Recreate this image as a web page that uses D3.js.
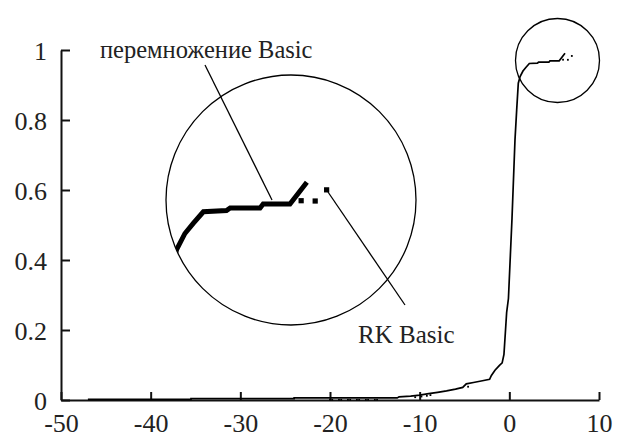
<!DOCTYPE html>
<html><head><meta charset="utf-8">
<script src="https://cdn.jsdelivr.net/npm/d3@7"></script>
<style>html,body{margin:0;padding:0;background:#fff;} svg{display:block;}
svg text{font-family:"Liberation Serif","Times New Roman",Tinos,"DejaVu Serif",serif !important;}</style>
</head><body>
<script>
// ---- data ----
const xTicks = [-50, -40, -30, -20, -10, 0, 10];
const xTickLabels = ["-50", "-40", "-30", "-20", "-10", "0", "10"];
const yTicks = [0, 0.2, 0.4, 0.6, 0.8, 1];
const yTickLabels = ["0", "0.2", "0.4", "0.6", "0.8", "1"];
const seriesNames = ["перемножение Basic", "RK Basic"];

// "перемножение Basic" (line)
const peremX = [-47, -35.5, -35.5, -24, -24, -12.5, -12.3, -11, -10, -9, -8, -7, -6, -5.2, -4.8, -4, -3, -2.2, -2, -1.6, -1.1, -0.8, -0.6, -0.45, -0.3, -0.1, 0.3, 0.63, 0.82, 1.0, 1.2, 1.52, 1.84, 2.23, 3.12, 3.26, 4.41, 4.53, 5.56, 6.21];
const peremY = [0.002, 0.002, 0.004, 0.004, 0.006, 0.006, 0.009, 0.011, 0.014, 0.018, 0.022, 0.026, 0.031, 0.036, 0.046, 0.050, 0.055, 0.059, 0.070, 0.085, 0.099, 0.106, 0.13, 0.19, 0.25, 0.29, 0.52, 0.743, 0.829, 0.905, 0.924, 0.940, 0.950, 0.9614, 0.9626, 0.9651, 0.9651, 0.969, 0.969, 0.9906];

// "RK Basic" (markers)
const rkX = [-20, -19.75, -19, -18.75, -18, -17.75, -17, -16.75, -16, -15.75, -15, -14.75, -10.5, -9.8, -9.2, -8.8, -4.6, 5.99, 6.53, 6.97];
const rkY = [0.0005, 0.0005, 0.0005, 0.0005, 0.0005, 0.0005, 0.0005, 0.0005, 0.0005, 0.0005, 0.0005, 0.0005, 0.008, 0.010, 0.012, 0.014, 0.038, 0.9723, 0.9720, 0.983];

// magnifier: data centre and factor
const zoomCentre = [5.6, 0.973];
const zoomFactor = 2.9;

// ---- drawing ----
const W = 617, H = 438;
const FONT = '"Liberation Serif","Times New Roman",Tinos,"DejaVu Serif",serif';
const svg = d3.select("body").append("svg").attr("width", W).attr("height", H)
  .attr("font-family", FONT);

const x = d3.scaleLinear().domain([-50, 10]).range([61, 599]);
const y = d3.scaleLinear().domain([0, 1]).range([400, 50]);

// axes
const gx = svg.append("g").attr("transform", `translate(0,${y(0)})`)
  .call(d3.axisBottom(x).tickValues(xTicks).tickSizeInner(-8).tickSizeOuter(0).tickPadding(14)
    .tickFormat((d, i) => xTickLabels[i]));
const gy = svg.append("g").attr("transform", `translate(${x(-50)},0)`)
  .call(d3.axisLeft(y).tickValues(yTicks).tickSizeInner(-9).tickSizeOuter(0).tickPadding(14)
    .tickFormat((d, i) => yTickLabels[i]));
[gx, gy].forEach(g => {
  g.attr("font-family", FONT).attr("font-size", 26);
  g.selectAll("path.domain").attr("stroke", "#111").attr("stroke-width", 2);
  g.selectAll(".tick line").attr("stroke", "#111").attr("stroke-width", 2);
  g.selectAll(".tick text").attr("fill", "#222");
});
gy.selectAll(".tick text").attr("dy", "0.38em");

const perem = peremX.map((v, i) => [v, peremY[i]]);
const rk = rkX.map((v, i) => [v, rkY[i]]);
const line = d3.line().x(d => x(d[0])).y(d => y(d[1]));

function drawSeries(g) {
  g.append("path").datum(perem).attr("d", line)
    .attr("fill", "none").attr("stroke", "#000").attr("stroke-width", 1.7)
    .attr("stroke-linejoin", "miter");
  g.selectAll("rect.rk").data(rk).enter().append("rect").attr("class", "rk")
    .attr("x", d => x(d[0]) - 0.9).attr("y", d => y(d[1]) - 0.9)
    .attr("width", 1.8).attr("height", 1.8).attr("fill", "#000");
}
drawSeries(svg.append("g"));

// small circle around the zoomed region
svg.append("circle").attr("cx", 557.5).attr("cy", 60.5).attr("r", 42)
  .attr("fill", "none").attr("stroke", "#000").attr("stroke-width", 1.3);

// magnified inset
const big = {cx: 291, cy: 200, r: 125};
svg.append("defs").append("clipPath").attr("id", "insetClip")
  .append("circle").attr("cx", big.cx).attr("cy", big.cy).attr("r", big.r);
const inset = svg.append("g").attr("clip-path", "url(#insetClip)")
  .append("g").attr("transform",
    `translate(${big.cx},${big.cy}) scale(${zoomFactor}) translate(${-x(zoomCentre[0])},${-y(zoomCentre[1])})`);
drawSeries(inset);
svg.append("circle").attr("cx", big.cx).attr("cy", big.cy).attr("r", big.r)
  .attr("fill", "none").attr("stroke", "#000").attr("stroke-width", 1.3);

// leader lines and labels
svg.append("line").attr("x1", 205).attr("y1", 65).attr("x2", 272).attr("y2", 200)
  .attr("stroke", "#000").attr("stroke-width", 1.3);
svg.append("line").attr("x1", 328).attr("y1", 192).attr("x2", 405).attr("y2", 305)
  .attr("stroke", "#000").attr("stroke-width", 1.3);
svg.append("text").attr("x", 100).attr("y", 58).attr("fill", "#222")
  .attr("font-size", 24.5).text(seriesNames[0]);
svg.append("text").attr("x", 358).attr("y", 343).attr("fill", "#222")
  .attr("font-size", 25).text(seriesNames[1]);
</script>
</body></html>
